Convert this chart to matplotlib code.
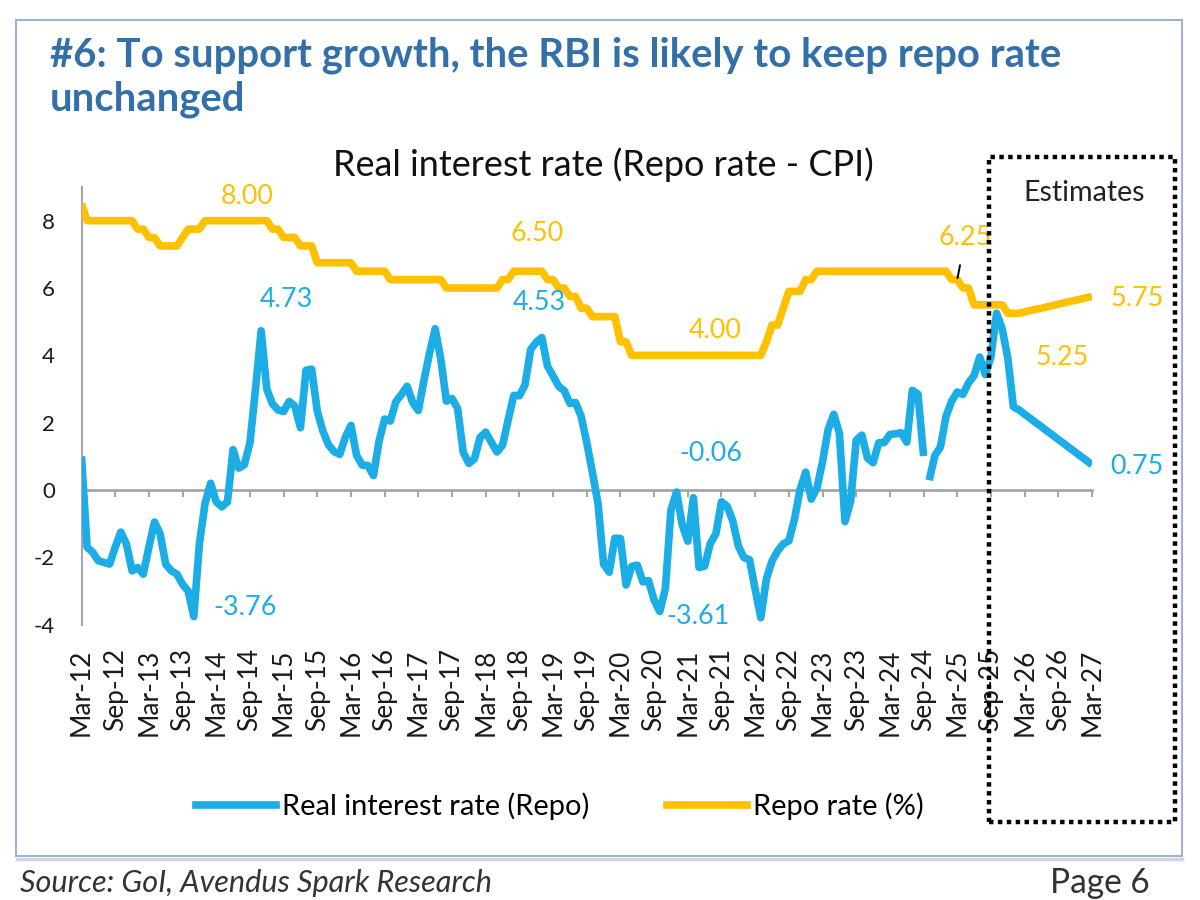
import numpy as np
import matplotlib
matplotlib.use("Agg")
import matplotlib.pyplot as plt
from matplotlib.patches import Rectangle
from matplotlib.lines import Line2D

plt.rcParams["font.family"] = ["Lato", "DejaVu Sans"]

# ---------------- data ----------------
tick_labels = ["Mar-12", "Sep-12", "Mar-13", "Sep-13", "Mar-14", "Sep-14", "Mar-15", "Sep-15",
               "Mar-16", "Sep-16", "Mar-17", "Sep-17", "Mar-18", "Sep-18", "Mar-19", "Sep-19",
               "Mar-20", "Sep-20", "Mar-21", "Sep-21", "Mar-22", "Sep-22", "Mar-23", "Sep-23",
               "Mar-24", "Sep-24", "Mar-25", "Sep-25", "Mar-26", "Sep-26", "Mar-27"]

# monthly, Mar-12 ... Mar-27
real_rate = [
    1.00, -1.70, -1.85, -2.10, -2.15, -2.20, -1.70, -1.25, -1.60, -2.40, -2.30, -2.50,   # Mar-12..Feb-13
    -1.70, -0.95, -1.30, -2.20, -2.40, -2.50, -2.80, -3.00, -3.76, -1.60, -0.40, 0.20,   # Mar-13..Feb-14
    -0.35, -0.50, -0.35, 1.20, 0.65, 0.75, 1.40, 3.00, 4.73, 3.00, 2.56, 2.38,           # Mar-14..Feb-15
    2.33, 2.63, 2.49, 1.85, 3.56, 3.59, 2.34, 1.75, 1.34, 1.14, 1.06, 1.57,              # Mar-15..Feb-16
    1.92, 1.03, 0.74, 0.73, 0.43, 1.45, 2.11, 2.05, 2.62, 2.84, 3.08, 2.60,              # Mar-16..Feb-17
    2.36, 3.26, 4.07, 4.79, 3.89, 2.64, 2.72, 2.42, 1.12, 0.79, 0.93, 1.56,              # Mar-17..Feb-18
    1.72, 1.42, 1.13, 1.33, 2.08, 2.81, 2.80, 3.12, 4.17, 4.39, 4.53, 3.68,              # Mar-18..Feb-19
    3.39, 3.08, 2.95, 2.57, 2.60, 2.19, 1.41, 0.53, -0.39, -2.20, -2.44, -1.43,          # Mar-19..Feb-20
    -1.44, -2.82, -2.27, -2.23, -2.73, -2.69, -3.27, -3.61, -2.93, -0.59, -0.06, -1.03,  # Mar-20..Feb-21
    -1.52, -0.23, -2.30, -2.26, -1.59, -1.30, -0.35, -0.48, -0.91, -1.66, -2.01, -2.07,  # Mar-21..Feb-22
    -2.95, -3.79, -2.64, -2.11, -1.81, -1.60, -1.51, -0.87, 0.02, 0.53, -0.27, 0.06,     # Mar-22..Feb-23
    0.84, 1.80, 2.25, 1.69, -0.94, -0.33, 1.48, 1.63, 0.95, 0.81, 1.40, 1.41,            # Mar-23..Feb-24
    1.65, 1.67, 1.70, 1.42, 2.96, 2.85, 1.01, 0.29, 1.02, 1.28, 2.19, 2.64,              # Mar-24..Feb-25
    2.91, 2.84, 3.18, 3.40, 3.95, 3.43, 3.96, 5.25, 4.79, 3.92, 2.47, 2.38,              # Mar-25..Feb-26
    2.25, 2.13, 2.00, 1.88, 1.75, 1.63, 1.50, 1.38, 1.25, 1.13, 1.00, 0.88,              # Mar-26..Feb-27
    0.75,                                                                                # Mar-27
]

repo_rate = [
    8.50, 8.00, 8.00, 8.00, 8.00, 8.00, 8.00, 8.00, 8.00, 8.00, 7.75, 7.75,   # Mar-12..Feb-13
    7.50, 7.50, 7.25, 7.25, 7.25, 7.25, 7.50, 7.75, 7.75, 7.75, 8.00, 8.00,   # Mar-13..Feb-14
    8.00, 8.00, 8.00, 8.00, 8.00, 8.00, 8.00, 8.00, 8.00, 8.00, 7.75, 7.75,   # Mar-14..Feb-15
    7.50, 7.50, 7.50, 7.25, 7.25, 7.25, 6.75, 6.75, 6.75, 6.75, 6.75, 6.75,   # Mar-15..Feb-16
    6.75, 6.50, 6.50, 6.50, 6.50, 6.50, 6.50, 6.25, 6.25, 6.25, 6.25, 6.25,   # Mar-16..Feb-17
    6.25, 6.25, 6.25, 6.25, 6.25, 6.00, 6.00, 6.00, 6.00, 6.00, 6.00, 6.00,   # Mar-17..Feb-18
    6.00, 6.00, 6.00, 6.25, 6.25, 6.50, 6.50, 6.50, 6.50, 6.50, 6.50, 6.25,   # Mar-18..Feb-19
    6.25, 6.00, 6.00, 5.75, 5.75, 5.40, 5.40, 5.15, 5.15, 5.15, 5.15, 5.15,   # Mar-19..Feb-20
    4.40, 4.40, 4.00, 4.00, 4.00, 4.00, 4.00, 4.00, 4.00, 4.00, 4.00, 4.00,   # Mar-20..Feb-21
    4.00, 4.00, 4.00, 4.00, 4.00, 4.00, 4.00, 4.00, 4.00, 4.00, 4.00, 4.00,   # Mar-21..Feb-22
    4.00, 4.00, 4.40, 4.90, 4.90, 5.40, 5.90, 5.90, 5.90, 6.25, 6.25, 6.50,   # Mar-22..Feb-23
    6.50, 6.50, 6.50, 6.50, 6.50, 6.50, 6.50, 6.50, 6.50, 6.50, 6.50, 6.50,   # Mar-23..Feb-24
    6.50, 6.50, 6.50, 6.50, 6.50, 6.50, 6.50, 6.50, 6.50, 6.50, 6.50, 6.25,   # Mar-24..Feb-25
    6.25, 6.00, 6.00, 5.50, 5.50, 5.50, 5.50, 5.50, 5.50, 5.25, 5.25, 5.25,   # Mar-25..Feb-26
    5.29, 5.33, 5.37, 5.40, 5.44, 5.48, 5.52, 5.56, 5.60, 5.63, 5.67, 5.71,   # Mar-26..Feb-27
    5.75,                                                                     # Mar-27
]

series_break = 151          # the real-rate line is interrupted between Sep-24 and Oct-24
real_label_idx = [32, 20, 82, 106, 103, 180]
real_label_off = [(25, 31), (51, 9), (-2, 35), (34, 39), (38, -5), (45, -2)]
repo_label_idx = [29, 81, 113, 156, 166, 180]
repo_label_off = [(3, 24), (1, 38), (-1, 25), (8, 42), (49, -44), (45, -2)]

BLUE = "#1DADE6"
GOLD = "#FFC000"
TITLE_BLUE = "#336FA9"
GRID_GRAY = "#A6A6A6"

W, H = 1200, 900
fig = plt.figure(figsize=(12, 9), dpi=100)
renderer = fig.canvas.get_renderer()


def fx(px):
    return px / W


def fy(py):
    return 1 - py / H


def size_for(s, w_px, **kw):
    t = fig.text(0, 0, s, fontsize=20, **kw)
    w = t.get_window_extent(renderer=renderer).width
    t.remove()
    return 20 * w_px / w


x = np.arange(len(real_rate))
real = np.array(real_rate, dtype=float)
repo = np.array(repo_rate, dtype=float)

ax = fig.add_axes([fx(81.5), fy(624.7), fx(1092) - fx(81.5), fy(187) - fy(624.7)])
ax.set_xlim(0, len(x) - 1)
ax.set_ylim(-4, 9)

LW = 5.5
ax.plot(x, repo, color=GOLD, lw=LW, solid_joinstyle="round", solid_capstyle="butt", zorder=3)
ax.plot(x[:series_break], real[:series_break], color=BLUE, lw=LW,
        solid_joinstyle="round", solid_capstyle="butt", zorder=4)
ax.plot(x[series_break:], real[series_break:], color=BLUE, lw=LW,
        solid_joinstyle="round", solid_capstyle="butt", zorder=4)

# axes styling
for s in ["top", "right"]:
    ax.spines[s].set_visible(False)
ax.spines["left"].set_color(GRID_GRAY)
ax.spines["left"].set_linewidth(1.5)
ax.spines["bottom"].set_position(("data", 0))
ax.spines["bottom"].set_color(GRID_GRAY)
ax.spines["bottom"].set_linewidth(2.0)

tick_pos = np.arange(0, len(x), 6)
ax.set_xticks(tick_pos)
ax.tick_params(axis="x", direction="out", length=5, width=1.5, color=GRID_GRAY,
               labelbottom=False)

ytick_fs = 16
ax.set_yticks([-4, -2, 0, 2, 4, 6, 8])
ax.set_yticklabels(["-4", "-2", "0", "2", "4", "6", "8"])
ax.tick_params(axis="y", length=0, pad=19, labelsize=ytick_fs, labelcolor="#1a1a1a")

xtick_fs = size_for("Mar-12", 87)
sec = ax.secondary_xaxis("bottom")
sec.set_xticks(tick_pos)
sec.set_xticklabels(tick_labels, rotation=90, fontsize=xtick_fs, color="#1a1a1a")
sec.tick_params(length=0, pad=17)
sec.spines["bottom"].set_visible(False)

# data labels
lab_fs = size_for("4.73", 53)
for i, (dx, dy) in zip(real_label_idx, real_label_off):
    ax.annotate(f"{real[i]:.2f}", xy=(i, real[i]), xytext=(dx, dy), textcoords="offset pixels",
                ha="center", va="center", color=BLUE, fontsize=lab_fs, zorder=6)
for i, (dx, dy) in zip(repo_label_idx, repo_label_off):
    kw = {}
    if i == 156:
        kw["arrowprops"] = dict(arrowstyle="-", color="black", lw=1.4, shrinkA=9, shrinkB=1)
    ax.annotate(f"{repo[i]:.2f}", xy=(i, repo[i]), xytext=(dx, dy), textcoords="offset pixels",
                ha="center", va="center", color=GOLD, fontsize=lab_fs, zorder=6, **kw)

# titles
title1 = "#6: To support growth, the RBI is likely to keep repo rate"
tfs = size_for(title1, 1010, fontweight="bold")
fig.text(fx(50), fy(66), title1, fontsize=tfs, fontweight="bold", color=TITLE_BLUE,
         ha="left", va="baseline")
fig.text(fx(50), fy(111), "unchanged", fontsize=tfs, fontweight="bold", color=TITLE_BLUE,
         ha="left", va="baseline")

ctitle = "Real interest rate (Repo rate - CPI)"
cfs = size_for(ctitle, 543)
fig.text(fx(603), fy(176), ctitle, fontsize=cfs, color="#111111", ha="center", va="baseline")

efs = size_for("Estimates", 122)
fig.text(fx(1084), fy(201), "Estimates", fontsize=efs, color="#222222", ha="center", va="baseline")

# legend
leg_fs = size_for("Real interest rate (Repo)", 308)
fs_px = leg_fs * 100 / 72
handles = [Line2D([], [], color=BLUE, lw=LW), Line2D([], [], color=GOLD, lw=LW)]
fig.legend(handles, ["Real interest rate (Repo)", "Repo rate (%)"], loc="center",
           bbox_to_anchor=(fx(560), fy(806)), ncol=2, frameon=False, fontsize=leg_fs,
           handlelength=80 / fs_px, handletextpad=6 / fs_px, columnspacing=78 / fs_px,
           borderaxespad=0, borderpad=0)

# estimates box (dotted)
fig.add_artist(Rectangle((fx(989), fy(822)), fx(1175) - fx(989), fy(157) - fy(822),
                         transform=fig.transFigure, fill=False, ec="black", lw=3.2,
                         ls=(0, (1, 1)), zorder=20))

# outer frame
fig.add_artist(Rectangle((fx(16), fy(856)), fx(1182) - fx(16), fy(20) - fy(856),
                         transform=fig.transFigure, fill=False, ec="#9CB3D1", lw=1.5, zorder=1))
fig.add_artist(Line2D([fx(17), fx(1182)], [fy(858.5), fy(858.5)], transform=fig.transFigure,
                      color="#C9D6E8", lw=2.5, zorder=1))

# footer
sfs = size_for("Source: GoI, Avendus Spark Research", 472, fontstyle="italic")
fig.text(fx(20), fy(892), "Source: GoI, Avendus Spark Research", fontsize=sfs,
         fontstyle="italic", color="#333333", ha="left", va="baseline")
pfs = size_for("Page 6", 100)
fig.text(fx(1050), fy(893), "Page 6", fontsize=pfs, color="#333333", ha="left", va="baseline")

fig.savefig("out.png", dpi=100, facecolor="white")
